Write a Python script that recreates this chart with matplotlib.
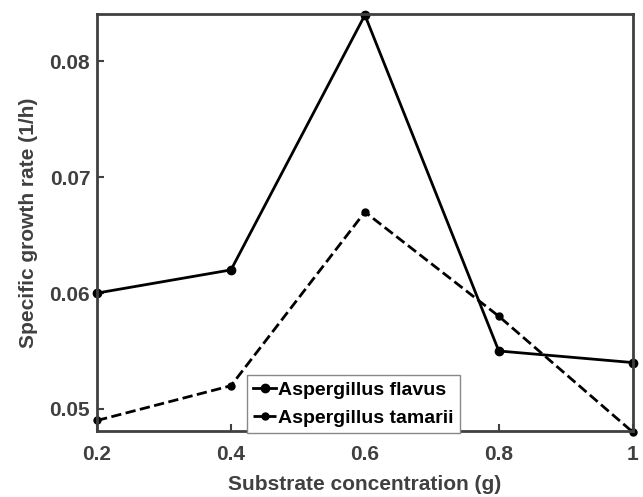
import matplotlib.pyplot as plt

# substrate concentration (g) vs specific growth rate (1/h)
conc = [0.2, 0.4, 0.6, 0.8, 1.0]
flavus = [0.060, 0.062, 0.084, 0.055, 0.054]
tamarii = [0.049, 0.052, 0.067, 0.058, 0.048]
xticks = [0.2, 0.4, 0.6, 0.8, 1.0]
xticklabels = ['0.2', '0.4', '0.6', '0.8', '1']
yticks = [0.05, 0.06, 0.07, 0.08]

plt.rcParams['font.family'] = ['Liberation Sans', 'DejaVu Sans']
plt.rcParams['font.weight'] = 'bold'
grey = '#404040'

fig = plt.figure(figsize=(6.43, 4.97), dpi=100)
ax = fig.add_axes([0.151, 0.133, 0.833, 0.839])

ax.plot(conc, flavus, '-o', color='black', lw=2, ms=6, label='Aspergillus flavus', clip_on=False)
ax.plot(conc, tamarii, '--o', color='black', lw=2, ms=5, label='Aspergillus tamarii', clip_on=False)

ax.set_xlim(0.2, 1.0)
ax.set_ylim(0.0481, 0.0841)
ax.set_xticks(xticks)
ax.set_xticklabels(xticklabels)
ax.set_yticks(yticks)
ax.tick_params(direction='in', length=5, width=1.5, colors=grey, labelsize=15)
ax.tick_params(axis='x', pad=10)
ax.tick_params(axis='y', pad=5)
for s in ax.spines.values():
    s.set_color(grey)
    s.set_linewidth(2)

ax.set_xlabel('Substrate concentration (g)', fontsize=15, color=grey, fontweight='bold', labelpad=8)
ax.set_ylabel('Specific growth rate (1/h)', fontsize=15, color=grey, fontweight='bold', labelpad=8)

leg = ax.legend(loc='lower left', bbox_to_anchor=(0.28, -0.005), fontsize=14,
                handlelength=1.2, handletextpad=0.1, borderpad=0.3, labelspacing=0.55,
                fancybox=False, framealpha=1, edgecolor='#888888', borderaxespad=0)
leg.get_frame().set_linewidth(1)

fig.savefig('out.png', dpi=100)
